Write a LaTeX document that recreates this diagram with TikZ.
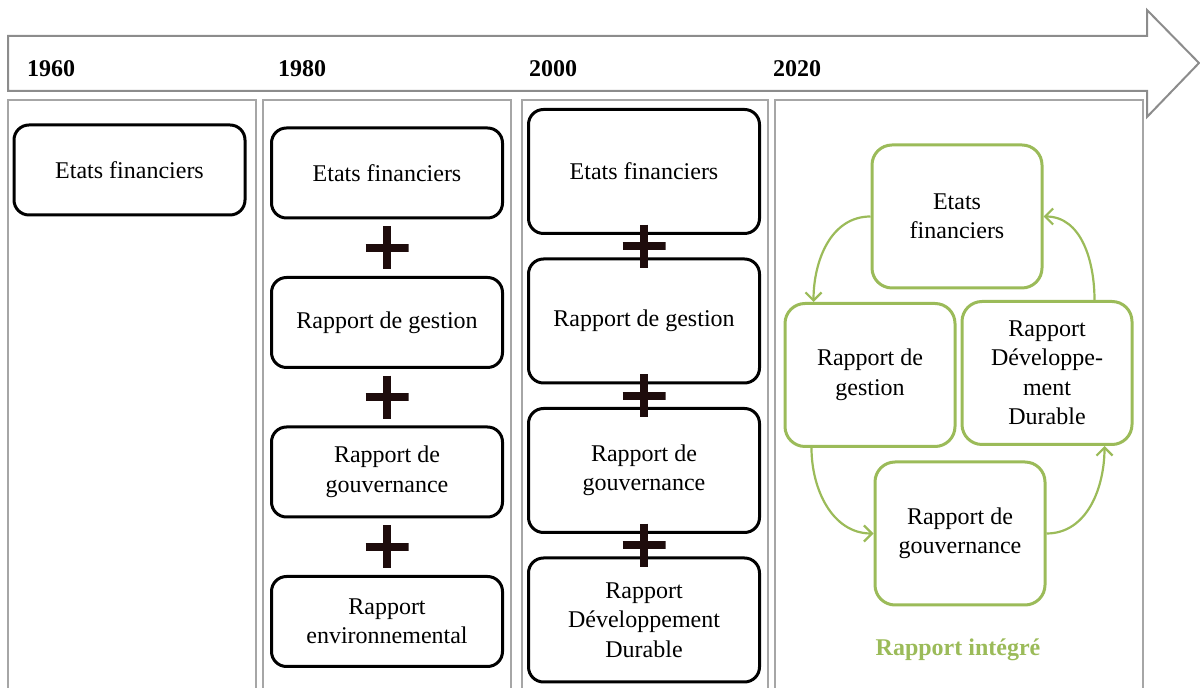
\documentclass[tikz,border=0pt]{standalone}
\usepackage{fontspec}
\setmainfont{Liberation Serif}
\usetikzlibrary{calc, positioning, arrows.meta}
\definecolor{framegray}{HTML}{A6A6A6}
\definecolor{arrowgray}{HTML}{8C8C8C}
\definecolor{rigreen}{HTML}{9BBB59}
\definecolor{plusdark}{HTML}{1E0C0C}

\begin{document}
\begin{tikzpicture}[x=0.5pt, y=-0.5pt,
		report/.style={draw, line width=1.5pt, rounded corners=7.5pt, align=center, minimum width=115.5pt, font=\fontsize{12}{14.75}\selectfont},
		short/.style={report, minimum height=45pt},
		tall/.style={report, minimum height=62pt},
		greenbox/.style={draw=rigreen, line width=1.5pt, rounded corners=10pt, align=center, minimum width=85pt, minimum height=71.5pt, font=\fontsize{12}{14.75}\selectfont},
		year/.style={anchor=west, font=\fontsize{12}{14}\selectfont\bfseries},
		plussign/.style={minimum size=21.5pt, inner sep=0pt, path picture={\draw[plusdark, line width=4pt] (path picture bounding box.north) -- (path picture bounding box.south) (path picture bounding box.west) -- (path picture bounding box.east);}},
		loopedge/.style={draw=rigreen, line width=1.1pt, -{Straight Barb[length=4pt, width=8pt]}}]

		\useasboundingbox (0,0) rectangle (1200,688);

		% timeline arrow and columns %
		\draw[arrowgray, line width=1pt] (8,36) -- (1147,36) -- (1147,10) -- (1199,63) -- (1147,117) -- (1147,91) -- (8,91) -- cycle;
		\draw[framegray, line width=1pt] (8,100) rectangle (256,700);
		\draw[framegray, line width=1pt] (263,100) rectangle (511,700);
		\draw[framegray, line width=1pt] (522,100) rectangle (768,700);
		\draw[framegray, line width=1pt] (775,100) rectangle (1143,700);

		% years %
		\node[year] (y1960) at (20,69) {1960};
		\node[year] (y1980) at (271,69) {1980};
		\node[year] (y2000) at (522,69) {2000};
		\node[year] (y2020) at (766,69) {2020};

		% nodes - 1960 %
		\node[short] (ef1) at (129.5,170) {Etats financiers};

		% nodes - 1980 %
		\node[short] (ef2) at (387,173) {Etats financiers};
		\node[short, below=28.25pt of ef2] (rg2) {Rapport de gestion};
		\node[short, below=28.25pt of rg2] (gv2) {Rapport de\\gouvernance};
		\node[short, below=28.25pt of gv2] (env2) {Rapport\\environnemental};

		% nodes - 2000 %
		\node[tall] (ef3) at (644,171.5) {Etats financiers};
		\node[tall, below=11.25pt of ef3] (rg3) {Rapport de gestion};
		\node[tall, below=11.25pt of rg3] (gv3) {Rapport de\\gouvernance};
		\node[tall, below=11.25pt of gv3] (rdd3) {Rapport\\Développement\\Durable};

		% plus signs %
		\node[plussign] (plus1) at ($(ef2.south)!0.5!(rg2.north)$) {};
		\node[plussign] (plus2) at ($(rg2.south)!0.5!(gv2.north)$) {};
		\node[plussign] (plus3) at ($(gv2.south)!0.5!(env2.north)$) {};
		\node[plussign] (plus4) at ($(ef3.south)!0.5!(rg3.north)$) {};
		\node[plussign] (plus5) at ($(rg3.south)!0.5!(gv3.north)$) {};
		\node[plussign] (plus6) at ($(gv3.south)!0.5!(rdd3.north)$) {};

		% nodes - 2020 %
		\node[greenbox] (ef4) at (957,216.5) {Etats\\financiers};
		\node[greenbox] (rg4) at (870,375) {Rapport de\\gestion};
		\node[greenbox] (rdd4) at (1047,373) {Rapport\\Développe-\\ment\\Durable};
		\node[greenbox] (gv4) at (960,533.5) {Rapport de\\gouvernance};
		\node[text=rigreen, font=\fontsize{12}{14}\selectfont\bfseries] (ri) at (958,650) {Rapport intégré};

		% edges %
		\draw[loopedge] (ef4.west) to[out=180, in=90] ([xshift=15pt]rg4.north west);
		\draw[loopedge] ([xshift=14pt]rg4.south west) to[out=-90, in=180] (gv4.west);
		\draw[loopedge] (gv4.east) to[out=0, in=-90] ([xshift=-14.5pt]rdd4.south east);
		\draw[loopedge] ([xshift=-19.5pt]rdd4.north east) to[out=90, in=0] (ef4.east);
\end{tikzpicture}
\end{document}
